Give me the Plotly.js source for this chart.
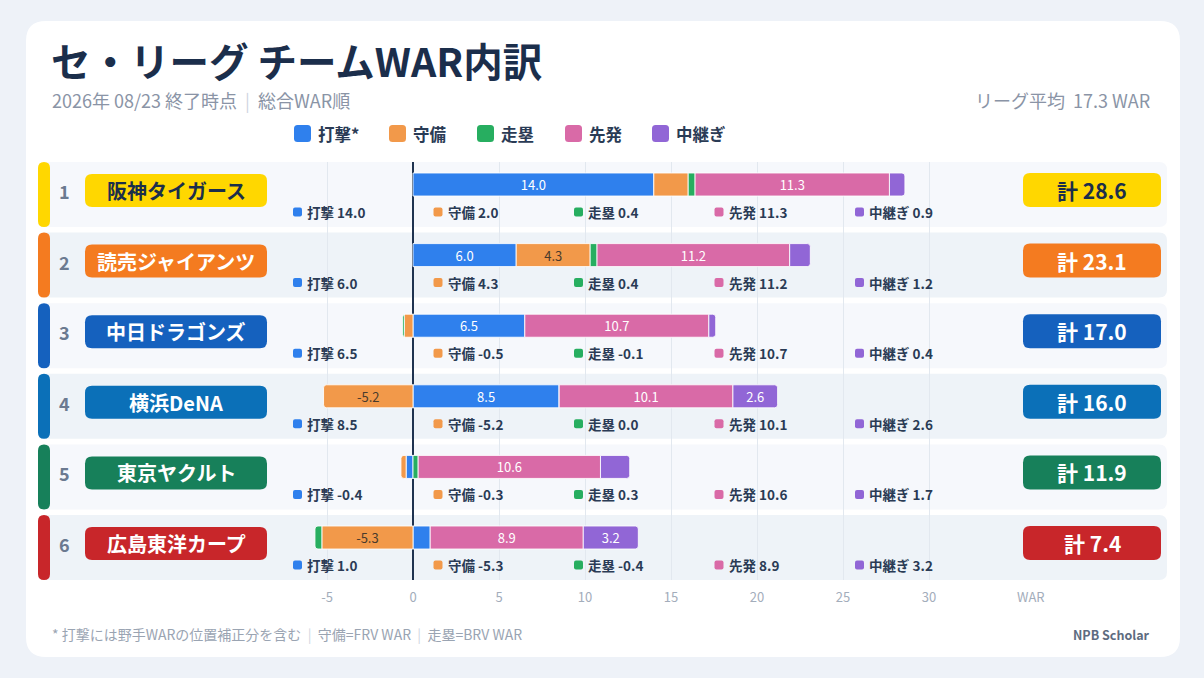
<!DOCTYPE html>
<html>
<head>
<meta charset="utf-8">
<script src="https://cdn.plot.ly/plotly-3.0.1.min.js"></script>
<style>
html, body { margin: 0; padding: 0; background: #eef2f8; }
#chart { width: 1204px; height: 678px; }
</style>
</head>
<body>
<div id="chart"></div>
<script>
var teams = ['阪神タイガース', '読売ジャイアンツ', '中日ドラゴンズ', '横浜DeNA', '東京ヤクルト', '広島東洋カープ'];
var batting     = [14.0, 6.0, 6.5, 8.5, -0.4, 1.0];
var fielding    = [2.0, 4.3, -0.5, -5.2, -0.3, -5.3];
var baserunning = [0.4, 0.4, -0.1, 0.0, 0.3, -0.4];
var starters    = [11.3, 11.2, 10.7, 10.1, 10.6, 8.9];
var relievers   = [0.9, 1.2, 0.4, 2.6, 1.7, 3.2];
var totals      = [28.6, 23.1, 17.0, 16.0, 11.9, 7.4];
var leagueAvg   = 17.3;

var components  = ['打撃', '守備', '走塁', '先発', '中継ぎ'];
var legendNames = ['打撃*', '守備', '走塁', '先発', '中継ぎ'];
var xTicks      = [-5, 0, 5, 10, 15, 20, 25, 30];

var compColors = ['#2f80ed', '#f2994a', '#27ae60', '#d96aa7', '#9166d6'];
var teamColors = ['#ffd700', '#f47b20', '#1561be', '#0b70b8', '#17805a', '#c8262a'];

var series = [batting, fielding, baserunning, starters, relievers];

var FONT = '"Noto Sans CJK JP", "Noto Sans", sans-serif';
var DARK = '#1b2e4b';

// plot area in pixels
var PL = 38, PR = 1167, PT = 162, PB = 580;
var pitch = 70.6, bandH = 65;
function px(x) { return (x - PL) / (PR - PL); }
function py(y) { return (PB - y) / (PB - PT); }

function rrect(x0, y0, x1, y1, r, fill) {
  var X = px, Y = py;
  var d = 'M' + X(x0 + r) + ',' + Y(y0) +
    ' L' + X(x1 - r) + ',' + Y(y0) +
    ' Q' + X(x1) + ',' + Y(y0) + ' ' + X(x1) + ',' + Y(y0 + r) +
    ' L' + X(x1) + ',' + Y(y1 - r) +
    ' Q' + X(x1) + ',' + Y(y1) + ' ' + X(x1 - r) + ',' + Y(y1) +
    ' L' + X(x0 + r) + ',' + Y(y1) +
    ' Q' + X(x0) + ',' + Y(y1) + ' ' + X(x0) + ',' + Y(y1 - r) +
    ' L' + X(x0) + ',' + Y(y0 + r) +
    ' Q' + X(x0) + ',' + Y(y0) + ' ' + X(x0 + r) + ',' + Y(y0) + ' Z';
  return { type: 'path', xref: 'paper', yref: 'paper', path: d,
           fillcolor: fill, line: { width: 0 }, layer: 'below' };
}

function ann(x, y, text, size, color, opts) {
  var a = { xref: 'paper', yref: 'paper', x: px(x), y: py(y), text: text,
            showarrow: false, xanchor: 'left', yanchor: 'middle',
            font: { family: FONT, size: size, color: color } };
  for (var k in (opts || {})) a[k] = opts[k];
  return a;
}

var shapes = [];
var annotations = [];

// card
shapes.push(rrect(26, 21, 1180, 657, 20, '#ffffff'));

// header
var sep = '  <span style="color:#cfd6df">|</span>  ';
annotations.push(ann(49, 60, '<b>セ・リーグ チームWAR内訳</b>', 39.5, DARK));
annotations.push(ann(50, 100, '2026年 08/23 終了時点' + sep + '総合WAR順', 18, '#8a94a6'));
annotations.push(ann(1152, 100, 'リーグ平均&nbsp;&nbsp;' + leagueAvg.toFixed(1) + ' WAR', 18, '#8a94a6', { xanchor: 'right' }));

// legend
var legendX = [294, 389, 477, 565, 652];
legendNames.forEach(function (name, k) {
  shapes.push(rrect(legendX[k], 125, legendX[k] + 17, 142, 3.5, compColors[k]));
  annotations.push(ann(legendX[k] + 22, 133.5, '<b>' + name + '</b>', 16.5, '#2a3b55'));
});

// rows
teams.forEach(function (team, i) {
  var top = PT + i * pitch;
  shapes.push(rrect(38, top, 1167, top + bandH, 8, i % 2 ? '#eef3f8' : '#f6f8fc'));
  shapes.push(rrect(38, top, 50, top + bandH, 6, teamColors[i]));
  shapes.push(rrect(85, top + 12, 267, top + 45, 7, teamColors[i]));
  shapes.push(rrect(1023, top + 11, 1161, top + 45, 7, teamColors[i]));

  var txt = i === 0 ? DARK : '#ffffff';
  annotations.push(ann(64, top + 29, '<b>' + (i + 1) + '</b>', 18, '#6b7a90', { xanchor: 'center' }));
  annotations.push(ann(176, top + 28.5, '<b>' + team + '</b>', 20, txt, { xanchor: 'center' }));
  annotations.push(ann(1092, top + 28, '<b>計 ' + totals[i].toFixed(1) + '</b>', 21, txt, { xanchor: 'center' }));

  components.forEach(function (c, k) {
    var sx = 293 + k * 140.5;
    shapes.push(rrect(sx, top + 45.5, sx + 9, top + 54.5, 2, compColors[k]));
    annotations.push(ann(sx + 12, top + 50, '<b>' + c + ' ' + series[k][i].toFixed(1) + '</b>', 13.5, '#2a3b55'));
  });
});

// axis label + footer
annotations.push(ann(1031, 596, 'WAR', 13, '#a3adbb', { xanchor: 'center' }));
annotations.push(ann(50, 634, '* 打撃には野手WARの位置補正分を含む' + sep + '守備=FRV WAR' + sep + '走塁=BRV WAR', 14, '#9aa4b2'));
annotations.push(ann(1152, 634, '<b>NPB Scholar</b>', 12.5, '#5d6b80', { xanchor: 'right' }));

var data = series.map(function (vals, k) {
  return {
    type: 'bar',
    orientation: 'h',
    name: legendNames[k],
    x: vals,
    y: teams,
    width: 0.326,
    offset: -0.3045,
    marker: { color: compColors[k], cornerradius: 3, line: { color: 'rgba(255,255,255,0.85)', width: 1 } },
    text: vals.map(function (v) { return Math.abs(v) >= 2.5 ? v.toFixed(1) : ''; }),
    textposition: 'inside',
    insidetextanchor: 'middle',
    constraintext: 'none',
    textangle: 0,
    textfont: { family: FONT, size: 13, color: k === 1 ? '#4a3b2c' : '#ffffff' },
    hoverinfo: 'skip',
    showlegend: false
  };
});

var layout = {
  width: 1204,
  height: 678,
  margin: { l: PL, r: 1204 - PR, t: PT, b: 678 - PB, pad: 0 },
  paper_bgcolor: '#eef2f8',
  plot_bgcolor: 'rgba(0,0,0,0)',
  barmode: 'relative',
  font: { family: FONT },
  showlegend: false,
  xaxis: {
    range: [(PL - 413) / 17.2, (PR - 413) / 17.2],
    tickvals: xTicks,
    ticktext: xTicks.map(String),
    showgrid: true,
    gridcolor: '#e2e8ef',
    gridwidth: 1,
    zeroline: true,
    zerolinecolor: '#1f3350',
    zerolinewidth: 1.5,
    ticks: '',
    showline: false,
    ticklabelstandoff: 8,
    tickfont: { family: FONT, size: 13, color: '#a3adbb' },
    fixedrange: true
  },
  yaxis: {
    type: 'category',
    categoryorder: 'array',
    categoryarray: teams,
    range: [5.4603, -0.4603],
    showticklabels: false,
    showgrid: false,
    zeroline: false,
    fixedrange: true
  },
  shapes: shapes,
  annotations: annotations
};

Plotly.newPlot('chart', data, layout, { displayModeBar: false, staticPlot: true });
</script>
</body>
</html>
